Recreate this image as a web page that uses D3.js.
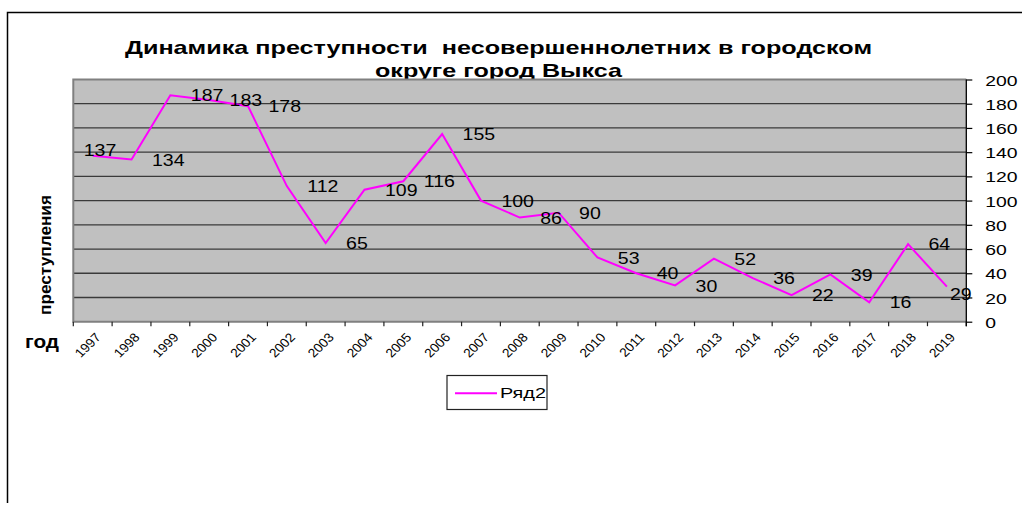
<!DOCTYPE html>
<html><head><meta charset="utf-8">
<script src="https://cdn.jsdelivr.net/npm/d3@7"></script>
<style>
html,body{margin:0;padding:0;background:#fff;}
svg{display:block;}
text{font-family:'Liberation Sans',Arial,sans-serif;white-space:pre;}
</style></head>
<body>
<svg id="chart" width="1022" height="505"></svg>
<script>
const years = ['1997','1998','1999','2000','2001','2002','2003','2004','2005','2006','2007','2008','2009','2010','2011','2012','2013','2014','2015','2016','2017','2018','2019'];
const crimes = [137,134,187,183,178,112,65,109,116,155,100,86,90,53,40,30,52,36,22,39,16,64,29];
const yTicks = [0,20,40,60,80,100,120,140,160,180,200];
const titleLines = ['Динамика преступности  несовершеннолетних в городском','округе город Выкса'];
const yAxisTitle = 'преступления';
const xAxisTitle = 'год';
const seriesName = 'Ряд2';

const svg = d3.select('#chart');
const L = 73.3, R = 966.3, T = 79.5, B = 321.7;
const x = d3.scaleBand().domain(years).range([L, R]).padding(0);
const y = d3.scaleLinear().domain([0, 200]).range([B, T]);
const cx = d => x(d) + x.bandwidth() / 2;

// outer frame (left + top visible)
svg.append('path').attr('d', 'M7.5,503 V12.5 H1022').attr('fill', 'none').attr('stroke', '#000').attr('stroke-width', 1.5);

// title
const tl = [{x:125, y:53.5, w:747}, {x:375, y:77, w:247}];
titleLines.forEach((t, i) => {
  svg.append('text').attr('x', tl[i].x).attr('y', tl[i].y)
    .attr('textLength', tl[i].w).attr('lengthAdjust', 'spacingAndGlyphs')
    .attr('font-size', 19).attr('font-weight', 'bold').attr('fill', '#000').text(t);
});

// plot area
svg.append('rect').attr('x', L).attr('y', T).attr('width', R - L).attr('height', B - T).attr('fill', '#c0c0c0');

// gridlines
svg.append('g').selectAll('line').data(yTicks.filter(v => v > 0 && v < 200)).join('line')
  .attr('x1', L).attr('x2', R).attr('y1', d => y(d)).attr('y2', d => y(d))
  .attr('stroke', '#3a3a3a').attr('stroke-width', 1.3);

// plot border (gray)
svg.append('path').attr('d', `M${R},${T} H${L} V${B} H${R}`).attr('fill', 'none').attr('stroke', '#808080').attr('stroke-width', 2);

// x ticks at band boundaries
const bounds = years.map(d => x(d)).concat([R]);
svg.append('g').selectAll('line').data(bounds).join('line')
  .attr('x1', d => d).attr('x2', d => d).attr('y1', B).attr('y2', B + 4.5)
  .attr('stroke', '#222').attr('stroke-width', 1.2);

// x labels
svg.append('g').selectAll('text').data(years).join('text')
  .attr('transform', d => `translate(${cx(d) + 9},338) scale(1.1,1) rotate(-47)`)
  .attr('text-anchor', 'end').attr('font-size', 12.5).attr('fill', '#000').text(d => d);

// right y axis
const yAxis = svg.append('g').attr('transform', `translate(${R},0)`)
  .call(d3.axisRight(y).tickValues(yTicks).tickSize(6).tickSizeOuter(0).tickFormat(d3.format('d')));
yAxis.select('.domain').attr('stroke', '#000').attr('stroke-width', 1.3).attr('d', `M0,${T} V${B + 4.5}`);
yAxis.selectAll('.tick line').attr('stroke', '#000').attr('stroke-width', 1.2);
yAxis.selectAll('.tick text').attr('x', null).attr('dy', '0.36em')
  .attr('transform', 'translate(19,0) scale(1.25,1)')
  .attr('font-size', 15.5).attr('font-family', "'Liberation Sans',Arial,sans-serif").attr('fill', '#000');

// line
const line = d3.line().x((d, i) => cx(years[i])).y(d => y(d));
svg.append('path').datum(crimes).attr('d', line).attr('fill', 'none')
  .attr('stroke', '#ff00ff').attr('stroke-width', 2).attr('stroke-linejoin', 'miter');

// data labels
const n = crimes.length;
svg.append('g').selectAll('text').data(crimes).join('text')
  .attr('transform', (d, i) => {
    let px = x(years[i]) + x.bandwidth() + 1, py = y(d);
    if (i === 0) { px = cx(years[i]) - 9; py = y(d) - 6; }
    if (i === n - 1) { px = cx(years[i]) + 3; py = y(d) + 7.5; }
    return `translate(${px},${py}) scale(1.15,1)`;
  })
  .attr('dy', '0.36em').attr('font-size', 17).attr('fill', '#000').text(d => d);

// axis titles
svg.append('text').attr('transform', 'translate(51,255) rotate(-90)').attr('text-anchor', 'middle')
  .attr('textLength', 120).attr('lengthAdjust', 'spacingAndGlyphs')
  .attr('font-size', 17).attr('font-weight', 'bold').attr('fill', '#000').text(yAxisTitle);
svg.append('text').attr('x', 25).attr('y', 348).attr('textLength', 34).attr('lengthAdjust', 'spacingAndGlyphs')
  .attr('font-size', 18).attr('font-weight', 'bold').attr('fill', '#000').text(xAxisTitle);

// legend
const lg = svg.append('g');
lg.append('rect').attr('x', 447).attr('y', 375.5).attr('width', 100).attr('height', 34)
  .attr('fill', '#fff').attr('stroke', '#222').attr('stroke-width', 1.2);
lg.append('line').attr('x1', 455).attr('x2', 497).attr('y1', 393.3).attr('y2', 393.3)
  .attr('stroke', '#ff00ff').attr('stroke-width', 2);
lg.append('text').attr('x', 500).attr('y', 398.3).attr('textLength', 46).attr('lengthAdjust', 'spacingAndGlyphs')
  .attr('font-size', 15.5).attr('fill', '#000').text(seriesName);
</script>
</body></html>
